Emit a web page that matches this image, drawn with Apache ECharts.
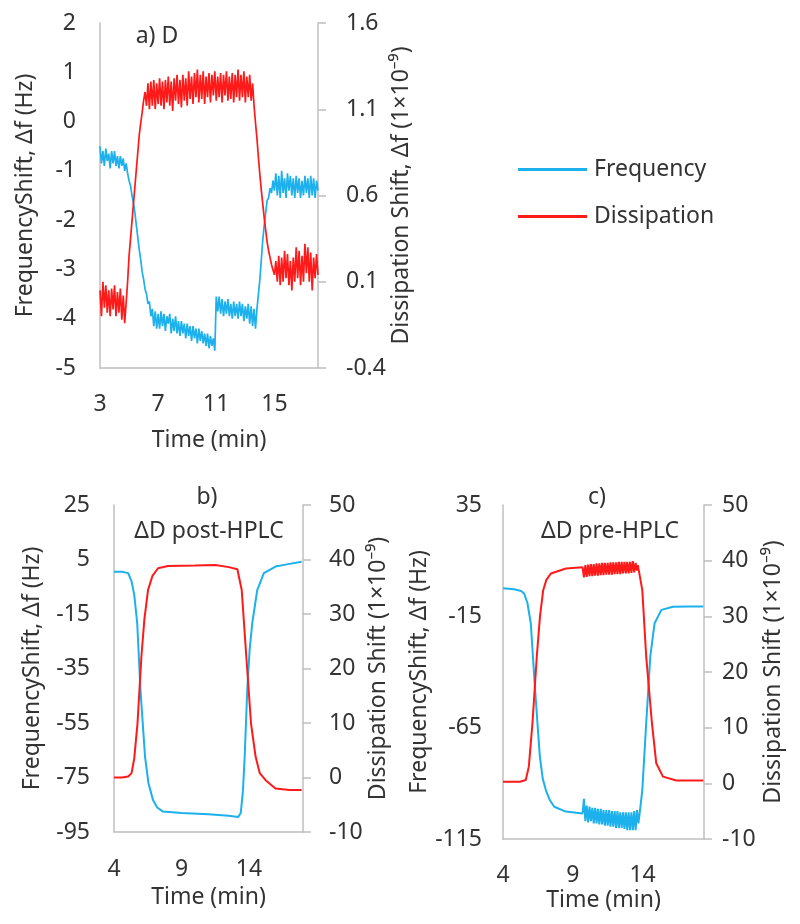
<!DOCTYPE html>
<html>
<head>
<meta charset="utf-8">
<script src="https://cdn.jsdelivr.net/npm/echarts@6/dist/echarts.min.js"></script>
<style>
html,body{margin:0;padding:0;background:#fff;}
#chart{width:800px;height:924px;}
</style>
</head>
<body>
<div id="chart"></div>
<script>
// ---------- Panel a) D : noisy traces (time min, value) ----------
const freqA = [
[3.0,-0.5],[3.1,-0.85],[3.2,-0.6],[3.3,-0.9],[3.4,-0.55],[3.5,-0.8],[3.6,-0.65],[3.7,-0.95],[3.8,-0.6],[3.9,-0.85],
[4.0,-0.6],[4.1,-0.9],[4.2,-0.7],[4.3,-0.95],[4.4,-0.7],[4.5,-0.9],[4.6,-0.75],[4.7,-1.0],[4.8,-0.85],
[4.9,-1.05],[5.0,-1.2],[5.1,-1.3],[5.2,-1.5],[5.3,-1.65],[5.4,-1.85],[5.5,-2.1],[5.6,-2.35],[5.7,-2.6],[5.8,-2.8],
[5.9,-3.05],[6.0,-3.2],[6.1,-3.4],[6.2,-3.5],[6.3,-3.7],[6.4,-3.65],[6.5,-3.95],[6.6,-3.8],[6.7,-4.15],[6.8,-3.85],[6.9,-4.2],[7.0,-3.9],
[7.1,-4.2],[7.2,-3.85],[7.3,-4.15],[7.4,-3.9],[7.5,-4.25],[7.6,-3.95],[7.7,-4.1],[7.8,-3.9],[7.9,-4.3],[8.0,-4.0],
[8.1,-4.25],[8.2,-3.95],[8.3,-4.3],[8.4,-4.05],[8.5,-4.35],[8.6,-4.05],[8.7,-4.3],[8.8,-4.1],[8.9,-4.4],[9.0,-4.1],
[9.1,-4.35],[9.2,-4.15],[9.3,-4.45],[9.4,-4.15],[9.5,-4.4],[9.6,-4.2],[9.7,-4.5],[9.8,-4.2],[9.9,-4.45],[10.0,-4.25],
[10.1,-4.5],[10.2,-4.3],[10.3,-4.55],[10.4,-4.3],[10.5,-4.6],[10.6,-4.35],[10.7,-4.55],[10.8,-4.4],[10.9,-4.65],
[11.0,-3.55],[11.1,-3.85],[11.2,-3.55],[11.3,-3.9],[11.4,-3.6],[11.5,-3.95],[11.6,-3.65],[11.7,-3.9],[11.8,-3.6],[11.9,-3.95],
[12.0,-3.7],[12.1,-4.0],[12.2,-3.65],[12.3,-3.95],[12.4,-3.7],[12.5,-4.0],[12.6,-3.65],[12.7,-3.95],[12.8,-3.7],[12.9,-4.05],
[13.0,-3.75],[13.1,-4.0],[13.2,-3.7],[13.3,-4.1],[13.4,-3.75],[13.5,-4.15],[13.6,-3.8],[13.7,-4.2],[13.8,-3.8],
[13.9,-3.5],[14.0,-3.2],[14.1,-2.8],[14.2,-2.4],[14.3,-2.1],[14.4,-1.85],[14.5,-1.6],[14.6,-1.55],[14.7,-1.35],[14.8,-1.45],[14.9,-1.2],[15.0,-1.4],
[15.1,-1.05],[15.2,-1.5],[15.3,-1.1],[15.4,-1.55],[15.5,-1.0],[15.6,-1.45],[15.7,-1.15],[15.8,-1.55],[15.9,-1.05],[16.0,-1.4],
[16.1,-1.1],[16.2,-1.5],[16.3,-1.15],[16.4,-1.55],[16.5,-1.1],[16.6,-1.45],[16.7,-1.15],[16.8,-1.55],[16.9,-1.2],[17.0,-1.5],
[17.1,-1.1],[17.2,-1.45],[17.3,-1.15],[17.4,-1.55],[17.5,-1.1],[17.6,-1.5],[17.7,-1.15],[17.8,-1.55],[17.9,-1.2],[18.0,-1.4]
];
const dissA = [
[3.0,0.05],[3.1,-0.1],[3.2,0.1],[3.3,-0.05],[3.4,0.08],[3.5,-0.08],[3.6,0.05],[3.7,-0.1],[3.8,0.06],[3.9,-0.06],
[4.0,0.08],[4.1,-0.1],[4.2,0.04],[4.3,-0.08],[4.4,0.06],[4.5,-0.12],[4.6,0.02],[4.7,-0.14],[4.8,-0.02],[4.9,0.1],
[5.0,0.25],[5.1,0.35],[5.2,0.45],[5.3,0.55],[5.4,0.65],[5.5,0.75],[5.6,0.85],[5.7,0.95],[5.8,1.02],[5.9,1.08],[6.0,1.15],[6.1,1.2],[6.2,1.12],[6.3,1.25],
[6.4,1.1],[6.5,1.26],[6.6,1.12],[6.7,1.27],[6.8,1.1],[6.9,1.25],[7.0,1.13],[7.1,1.28],[7.2,1.12],[7.3,1.26],
[7.4,1.1],[7.5,1.27],[7.6,1.14],[7.7,1.29],[7.8,1.12],[7.9,1.26],[8.0,1.09],[8.1,1.28],[8.2,1.15],[8.3,1.3],
[8.4,1.13],[8.5,1.27],[8.6,1.11],[8.7,1.3],[8.8,1.15],[8.9,1.28],[9.0,1.12],[9.1,1.32],[9.2,1.16],[9.3,1.29],
[9.4,1.13],[9.5,1.31],[9.6,1.17],[9.7,1.33],[9.8,1.14],[9.9,1.3],[10.0,1.16],[10.1,1.32],[10.2,1.13],[10.3,1.29],
[10.4,1.17],[10.5,1.31],[10.6,1.14],[10.7,1.3],[10.8,1.18],[10.9,1.32],[11.0,1.15],[11.1,1.29],[11.2,1.17],[11.3,1.31],
[11.4,1.14],[11.5,1.3],[11.6,1.18],[11.7,1.32],[11.8,1.15],[11.9,1.29],[12.0,1.16],[12.1,1.31],[12.2,1.14],[12.3,1.3],
[12.4,1.17],[12.5,1.33],[12.6,1.15],[12.7,1.3],[12.8,1.17],[12.9,1.32],[13.0,1.14],[13.1,1.29],[13.2,1.17],[13.3,1.3],[13.4,1.15],[13.5,1.25],
[13.6,1.12],[13.7,1.02],[13.8,0.93],[13.9,0.82],[14.0,0.72],[14.1,0.63],[14.2,0.55],[14.3,0.47],[14.4,0.4],[14.5,0.33],
[14.6,0.28],[14.7,0.24],[14.8,0.2],[14.9,0.17],[15.0,0.14],
[15.1,0.22],[15.2,0.1],[15.3,0.25],[15.4,0.08],[15.5,0.24],[15.6,0.1],[15.7,0.28],[15.8,0.12],[15.9,0.26],[16.0,0.08],
[16.1,0.22],[16.2,0.05],[16.3,0.24],[16.4,0.1],[16.5,0.3],[16.6,0.12],[16.7,0.28],[16.8,0.08],[16.9,0.25],[17.0,0.1],
[17.1,0.32],[17.2,0.15],[17.3,0.3],[17.4,0.1],[17.5,0.27],[17.6,0.05],[17.7,0.24],[17.8,0.12],[17.9,0.26],[18.0,0.14]
];

// ---------- Panel b) ΔD post-HPLC ----------
const freqB = [
[4,0.5],[4.6,0.5],[5.05,0],[5.3,-3],[5.5,-8],[5.72,-18.4],[5.96,-42.9],[6.3,-67.4],[6.55,-77],[6.89,-83.3],[7.2,-86],
[7.63,-87.5],[9,-88],[11,-88.5],[12.5,-89],[13.2,-89.5],[13.39,-88],[13.55,-80],[13.68,-67.4],[13.87,-42.9],[14.05,-28],
[14.24,-18.4],[14.61,-6.2],[15.1,0],[15.96,2.4],[16.9,3.3],[17.9,4.2]
];
const dissB = [
[4,0],[4.6,0],[5.05,0.2],[5.3,0.8],[5.5,3.5],[5.74,9.9],[6.03,22.2],[6.25,29],[6.52,34.4],[6.85,37],[7.26,38.4],
[8,38.8],[10,38.9],[11.5,39],[12.5,38.6],[13.14,38.2],[13.46,34.4],[13.8,22.2],[14.15,9.9],[14.49,3.8],[14.8,0.8],
[15.23,-0.5],[15.96,-2.0],[17,-2.3],[17.9,-2.3]
];

// ---------- Panel c) ΔD pre-HPLC ----------
const freqC = [
[4,-2.4],[4.8,-2.8],[5.3,-3.6],[5.51,-4.7],[5.75,-9],[5.99,-18.1],[6.3,-48.1],[6.64,-78],[6.85,-88],[7.07,-93],[7.35,-97.5],
[7.67,-100.5],[8.5,-102.7],[9.7,-103.5],
[9.8,-97],[9.9,-107],[10.0,-100],[10.1,-107.5],[10.2,-100.5],[10.3,-107],[10.4,-101],[10.5,-108],[10.6,-101],[10.7,-108],
[10.8,-101.5],[10.9,-108.5],[11.0,-101.5],[11.1,-108.5],[11.2,-102],[11.3,-109],[11.4,-102],[11.5,-109],[11.6,-102],[11.7,-109.5],
[11.8,-102.5],[11.9,-109.5],[12.0,-102.5],[12.1,-110],[12.2,-102.5],[12.3,-110],[12.4,-103],[12.5,-110],[12.6,-103],[12.7,-110.5],
[12.8,-103],[12.9,-111],[13.0,-103],[13.1,-111],[13.2,-103],[13.3,-111],[13.4,-102.5],[13.5,-111],[13.6,-102],[13.7,-108],
[13.78,-104],[13.98,-93],[14.26,-63],[14.55,-33.1],[14.86,-18.1],[15.35,-12.1],[16.18,-10.7],[17.3,-10.6],[18.35,-10.6]
];
const dissC = [
[4,0.3],[5.2,0.3],[5.63,0.6],[5.85,3],[6.11,10.8],[6.42,22.75],[6.65,30],[6.88,34.7],[7.1,36.5],[7.43,37.7],[8.51,38.6],[9.7,38.8],
[9.8,37.0],[9.9,39.2],[10.0,37.1],[10.1,39.3],[10.2,37.2],[10.3,39.4],[10.4,37.2],[10.5,39.4],[10.6,37.3],[10.7,39.5],
[10.8,37.3],[10.9,39.5],[11.0,37.4],[11.1,39.6],[11.2,37.4],[11.3,39.6],[11.4,37.5],[11.5,39.6],[11.6,37.5],[11.7,39.7],
[11.8,37.5],[11.9,39.7],[12.0,37.6],[12.1,39.7],[12.2,37.6],[12.3,39.8],[12.4,37.6],[12.5,39.8],[12.6,37.7],[12.7,39.8],
[12.8,37.7],[12.9,39.8],[13.0,37.7],[13.1,39.8],[13.2,37.8],[13.3,39.9],[13.4,37.9],[13.5,39.6],[13.6,38.2],
[13.66,39.2],[13.98,34.7],[14.26,22.75],[14.67,10.8],[14.98,3.6],[15.46,1.2],[16.42,0.5],[18.35,0.5]
];

// ---------- texts ----------
const seriesNames = ['Frequency','Dissipation'];
const panelTitles = ['a) D','b)','ΔD post-HPLC','c)','ΔD pre-HPLC'];
const xName = 'Time (min)';
const yLeftName = 'FrequencyShift, Δf (Hz)';
const yRightNameA = 'Dissipation Shift, Δf (1×10⁻⁹)';
const yRightNameBC = 'Dissipation Shift (1×10⁻⁹)';

const FONT = 'Noto Sans';
const TXT = '#333333';
const AX = '#bfbfbf';
const FS = 23;
const BLUE = '#1CB0EC';
const RED = '#FF1A1A';

function xAx(gi, min, max, interval, margin, gap){
  return {type:'value', gridIndex:gi, min, max, interval,
    name:xName, nameLocation:'middle', nameGap:gap,
    nameTextStyle:{fontFamily:FONT,fontSize:FS,color:TXT},
    axisLine:{show:true,onZero:false,lineStyle:{color:AX,width:1.5}},
    axisTick:{show:false}, splitLine:{show:false},
    axisLabel:{fontFamily:FONT,fontSize:FS,color:TXT,margin,showMaxLabel:false}};
}
function yL(gi, min, max, interval, margin, gap){
  return {type:'value', gridIndex:gi, position:'left', min, max, interval,
    name:yLeftName, nameLocation:'middle', nameGap:gap, nameRotate:90,
    nameTextStyle:{fontFamily:FONT,fontSize:FS,color:TXT},
    axisLine:{show:true,onZero:false,lineStyle:{color:AX,width:1.5}},
    axisTick:{show:false}, splitLine:{show:false},
    axisLabel:{fontFamily:FONT,fontSize:FS,color:TXT,margin}};
}
function yR(gi, min, max, interval, margin, gap, name, fmt){
  return {type:'value', gridIndex:gi, position:'right', min, max, interval,
    name, nameLocation:'middle', nameGap:gap, nameRotate:90,
    nameTextStyle:{fontFamily:FONT,fontSize:FS,color:TXT},
    axisLine:{show:true,onZero:false,lineStyle:{color:AX,width:1.5}},
    axisTick:{show:true,inside:false,length:8,lineStyle:{color:AX,width:1.5}},
    splitLine:{show:false},
    axisLabel:{fontFamily:FONT,fontSize:FS,color:TXT,margin,formatter:fmt}};
}
function ser(name, data, xi, yi, color, w){
  return {type:'line', name, data, xAxisIndex:xi, yAxisIndex:yi, showSymbol:false, symbol:'none',
    lineStyle:{color, width:w}, itemStyle:{color}, z: name==='Frequency'?2:3};
}
function txt(x, y, t){
  return {type:'text', x, y, style:{text:t, fill:TXT, font:FS+'px "'+FONT+'"', textAlign:'center', textVerticalAlign:'middle'}};
}

const chart = echarts.init(document.getElementById('chart'), null, {renderer:'canvas'});
chart.setOption({
  animation:false,
  backgroundColor:'#fff',
  grid:[
    {left:100, top:23, width:218, height:345},
    {left:114, top:505, width:189, height:327},
    {left:503, top:505, width:201, height:334}
  ],
  xAxis:[
    xAx(0, 3, 18, 4, 25, 61),
    xAx(1, 4, 18, 5, 26, 54),
    xAx(2, 4, 18.4, 5, 25, 50)
  ],
  yAxis:[
    yL(0, -5, 2, 1, 24, 63),
    yR(0, -0.4, 1.6, 0.5, 28, 64, yRightNameA, v => v.toFixed(1)),
    yL(1, -95, 25, 20, 24, 70),
    yR(1, -10, 50, 10, 26, 64, yRightNameBC),
    yL(2, -115, 35, 50, 21, 68),
    yR(2, -10, 50, 10, 18, 58, yRightNameBC)
  ],
  legend:{
    orient:'vertical', left:518, top:158, itemWidth:69, itemHeight:3, itemGap:24, icon:'rect',
    padding:0, data:seriesNames,
    textStyle:{fontFamily:FONT,fontSize:FS,color:TXT,padding:[0,0,0,2]}
  },
  series:[
    ser(seriesNames[0], freqA, 0, 0, BLUE, 1.7),
    ser(seriesNames[1], dissA, 0, 1, RED, 1.7),
    ser(seriesNames[0], freqB, 1, 2, BLUE, 2),
    ser(seriesNames[1], dissB, 1, 3, RED, 2),
    ser(seriesNames[0], freqC, 2, 4, BLUE, 2),
    ser(seriesNames[1], dissC, 2, 5, RED, 2)
  ],
  graphic:[
    txt(157, 36, panelTitles[0]),
    txt(207, 497, panelTitles[1]),
    txt(209, 531, panelTitles[2]),
    txt(597, 497, panelTitles[3]),
    txt(610, 531, panelTitles[4])
  ]
});
</script>
</body>
</html>
